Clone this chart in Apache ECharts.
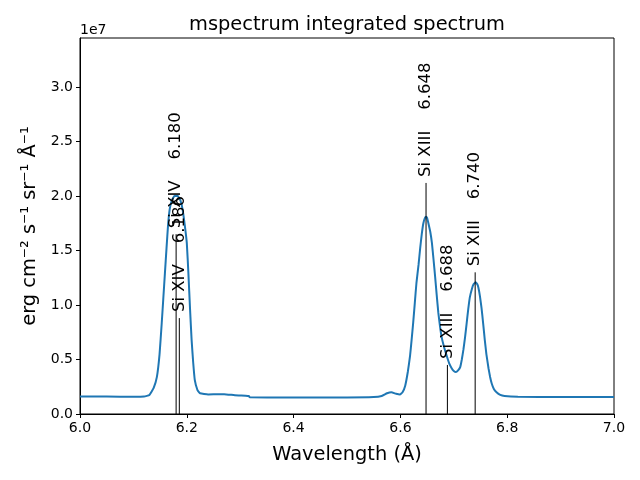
<!DOCTYPE html>
<html>
<head>
<meta charset="utf-8">
<script src="https://cdn.jsdelivr.net/npm/echarts@6/dist/echarts.min.js"></script>
<style>html,body{margin:0;padding:0;background:#fff}#c{width:640px;height:480px}</style>
</head>
<body>
<div id="c"></div>
<script>
// Wavelength (Å) and flux (units of 1e7 erg cm^-2 s^-1 sr^-1 Å^-1)
const wavelength = [6.000,6.050,6.100,6.120,6.130,6.138,6.144,6.149,6.153,6.156,6.159,6.162,6.165,6.168,6.172,6.177,6.183,6.188,6.192,6.196,6.200,6.203,6.206,6.209,6.212,6.215,6.220,6.225,6.240,6.260,6.270,6.290,6.310,6.316,6.318,6.350,6.400,6.450,6.500,6.550,6.565,6.575,6.583,6.592,6.599,6.604,6.609,6.614,6.618,6.621,6.624,6.627,6.630,6.634,6.637,6.640,6.643,6.646,6.648,6.650,6.652,6.656,6.659,6.662,6.665,6.668,6.671,6.674,6.677,6.682,6.687,6.691,6.696,6.700,6.704,6.708,6.712,6.715,6.718,6.721,6.724,6.727,6.730,6.734,6.737,6.741,6.744,6.746,6.749,6.752,6.755,6.758,6.761,6.765,6.768,6.771,6.775,6.780,6.787,6.795,6.820,6.900,7.000];
const flux = [0.160,0.160,0.158,0.160,0.175,0.24,0.34,0.55,0.83,1.06,1.29,1.52,1.74,1.88,1.96,2.00,2.00,1.96,1.88,1.74,1.57,1.29,0.97,0.68,0.47,0.31,0.22,0.19,0.18,0.182,0.182,0.172,0.168,0.165,0.153,0.152,0.152,0.152,0.152,0.155,0.165,0.19,0.20,0.185,0.178,0.20,0.26,0.39,0.53,0.68,0.84,1.02,1.20,1.37,1.52,1.65,1.75,1.80,1.81,1.80,1.76,1.67,1.57,1.42,1.26,1.09,0.93,0.81,0.71,0.61,0.53,0.47,0.42,0.395,0.385,0.40,0.43,0.50,0.59,0.70,0.83,0.96,1.07,1.15,1.19,1.21,1.19,1.16,1.08,0.97,0.83,0.68,0.55,0.42,0.34,0.28,0.23,0.20,0.175,0.165,0.158,0.156,0.155];

// Identified lines
const lineWl = [6.180, 6.186, 6.648, 6.688, 6.740];
const lineTop = [1.65, 0.88, 2.12, 0.45, 1.30];
const lineLabels = ['Si XIV    6.180', 'Si XIV    6.186', 'Si XIII    6.648', 'Si XIII    6.688', 'Si XIII    6.740'];

const xTicks = [6.0, 6.2, 6.4, 6.6, 6.8, 7.0];
const yTicks = [0.0, 0.5, 1.0, 1.5, 2.0, 2.5, 3.0];

const chart = echarts.init(document.getElementById('c'), null, {renderer: 'canvas'});
const FONT = '"DejaVu Sans", sans-serif';

chart.setOption({
  animation: false,
  backgroundColor: '#fff',
  grid: {left: 80, right: 26, top: 38, bottom: 66, show: true, borderColor: '#000', borderWidth: 1, backgroundColor: 'transparent'},
  xAxis: {
    type: 'value', min: 6.0, max: 7.0, interval: 0.2,
    axisLine: {show: true, lineStyle: {color: '#000', width: 1}},
    axisTick: {show: true, length: 4, lineStyle: {color: '#000', width: 1}, customValues: xTicks},
    axisLabel: {color: '#000', fontSize: 14, fontFamily: FONT, margin: 7, customValues: xTicks, formatter: v => v.toFixed(1)},
    splitLine: {show: false}
  },
  yAxis: {
    type: 'value', min: 0, max: 3.45, interval: 0.5,
    axisLine: {show: true, lineStyle: {color: '#000', width: 1}},
    axisTick: {show: true, length: 4, lineStyle: {color: '#000', width: 1}, customValues: yTicks},
    axisLabel: {color: '#000', fontSize: 14, fontFamily: FONT, margin: 7, customValues: yTicks, formatter: v => v.toFixed(1)},
    splitLine: {show: false}
  },
  graphic: [
    {type: 'text', x: 347, y: 25, style: {text: 'mspectrum integrated spectrum', fill: '#000', font: '19.4px ' + FONT, align: 'center', verticalAlign: 'middle'}},
    {type: 'text', x: 80, y: 30, style: {text: '1e7', fill: '#000', font: '14px ' + FONT, align: 'left', verticalAlign: 'middle'}},
    {type: 'text', x: 347, y: 455, style: {text: 'Wavelength (Å)', fill: '#000', font: '19.4px ' + FONT, align: 'center', verticalAlign: 'middle'}},
    {type: 'text', x: 30, y: 226, rotation: Math.PI / 2, style: {text: 'erg cm⁻² s⁻¹ sr⁻¹ Å⁻¹', fill: '#000', font: '19.4px ' + FONT, align: 'center', verticalAlign: 'middle'}}
  ],
  series: [
    {
      type: 'line',
      data: wavelength.map((w, i) => [w, flux[i]]),
      showSymbol: false,
      smooth: 0.12,
      lineStyle: {color: '#1f77b4', width: 2},
      z: 2
    },
    {
      type: 'custom',
      data: lineWl.map((w, i) => [w, lineTop[i]]),
      z: 3,
      renderItem: function (params, api) {
        const x = api.value(0), h = api.value(1);
        const p0 = api.coord([x, 0]);
        const p1 = api.coord([x, h]);
        return {
          type: 'group',
          children: [
            {type: 'line', shape: {x1: p0[0], y1: p0[1], x2: p1[0], y2: p1[1]}, style: {stroke: '#000', lineWidth: 1}},
            {type: 'text', x: p1[0], y: p1[1] - 6, rotation: Math.PI / 2,
             style: {text: lineLabels[params.dataIndex], fill: '#000', font: '16.5px ' + FONT, align: 'left', verticalAlign: 'middle'}}
          ]
        };
      }
    }
  ]
});
</script>
</body>
</html>
